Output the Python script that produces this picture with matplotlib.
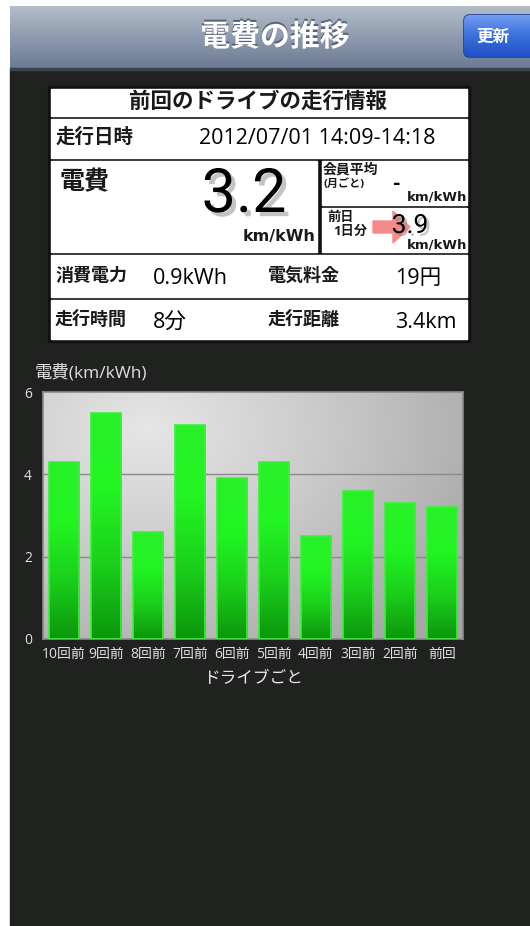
import matplotlib
matplotlib.use('Agg')
import matplotlib.pyplot as plt
import matplotlib.patheffects as pe
from matplotlib.patches import Rectangle, FancyBboxPatch, FancyArrow
from matplotlib.colors import LinearSegmentedColormap
import numpy as np

plt.rcParams['font.family'] = ['Open Sans', 'Noto Sans CJK JP', 'DejaVu Sans']

# chart data
drives = ['10回前', '9回前', '8回前', '7回前', '6回前', '5回前', '4回前', '3回前', '2回前', '前回']
efficiency = [4.3, 5.5, 2.6, 5.2, 3.9, 4.3, 2.5, 3.6, 3.3, 3.2]
y_ticks = [0, 2, 4, 6]

# info panel values
title = '電費の推移'
panel_title = '前回のドライブの走行情報'
drive_date = '2012/07/01 14:09-14:18'
last_eff = '3.2'
member_avg = '-'
prev_day = '3.9'
power_used = '0.9kWh'
cost = '19円'
drive_time = '8分'
distance = '3.4km'

W, H = 530, 926
fig = plt.figure(figsize=(W / 100, H / 100), dpi=100, facecolor='white')

bg = fig.add_axes([0, 0, 1, 1])
bg.set_xlim(0, W)
bg.set_ylim(H, 0)
bg.axis('off')

# dark screen
bg.add_patch(Rectangle((10, 70), W - 10, H - 70, color='#202220', zorder=0))

# header bar gradient
hgrad = np.linspace(0, 1, 64).reshape(-1, 1)
hcmap = LinearSegmentedColormap.from_list('hdr', ['#b3bcc8', '#8e9aae', '#6b7a93'])
bg.imshow(hgrad, extent=(10, W, 69, 6), cmap=hcmap, aspect='auto', zorder=1)
bg.add_patch(Rectangle((10, 68), W - 10, 2, color='#3a4250', zorder=2))
bg.text(275, 38, title, color='white', fontsize=21.5, fontweight='bold',
        ha='center', va='center', zorder=3,
        path_effects=[pe.withSimplePatchShadow(offset=(0, 1.5), shadow_rgbFace='#4a5568', alpha=0.8)])

# refresh button
btn = FancyBboxPatch((464, 15), 80, 42, boxstyle='round,pad=0,rounding_size=6',
                     facecolor='#2a60d0', edgecolor='#1b3f8f', linewidth=1.2, zorder=3)
bg.add_patch(btn)
bgrad = np.linspace(0, 1, 32).reshape(-1, 1)
bcmap = LinearSegmentedColormap.from_list('btn', ['#6f9cf0', '#3a6fdc', '#1f52c4'])
bim = bg.imshow(bgrad, extent=(464, 544, 57, 15), cmap=bcmap, aspect='auto', zorder=3.5)
bim.set_clip_path(btn)
bg.text(493, 37, '更新', color='white', fontsize=12, fontweight='bold',
        ha='center', va='center', zorder=4)

# info table
bg.add_patch(Rectangle((48, 86), 422, 256, color='#111111', zorder=1))
cells = [(51, 89, 467, 116), (51, 119, 467, 158), (51, 161, 317, 252),
         (322, 161, 467, 205), (322, 208, 467, 252), (51, 255, 467, 297),
         (51, 300, 467, 339)]
for x0, y0, x1, y1 in cells:
    bg.add_patch(Rectangle((x0, y0), x1 - x0, y1 - y0, color='white', zorder=2))

dark = '#1a1a1a'
narrow = ['Roboto', 'DejaVu Sans']
wide_bold = ['DejaVu Sans']
bg.text(258, 102, panel_title, color=dark, fontsize=15.5, fontweight='bold',
        ha='center', va='center', zorder=3)
bg.text(56, 138, '走行日時', color=dark, fontsize=14, fontweight='bold', va='center', zorder=3)
bg.text(199, 139, drive_date, color='black', fontsize=15.5, va='center', zorder=3)

bg.text(60, 183, '電費', color=dark, fontsize=18, fontweight='bold', va='center', zorder=3)
shadow = [pe.withSimplePatchShadow(offset=(3, -3), shadow_rgbFace='#888888', alpha=0.5)]
bg.text(244, 195, last_eff, color='black', fontsize=44, family=narrow, ha='center',
        va='center', zorder=3, path_effects=shadow)
bg.text(315, 236, 'km/kWh', color=dark, fontsize=11.5, fontweight='bold', family=wide_bold,
        ha='right', va='center', zorder=3)

bg.text(323, 170, '会員平均', color=dark, fontsize=10, fontweight='bold', va='center', zorder=3)
bg.text(323, 184, '(月ごと)', color=dark, fontsize=8, fontweight='bold', va='center', zorder=3)
bg.text(397, 184, member_avg, color='black', fontsize=13, fontweight='bold', family=wide_bold,
        ha='center', va='center', zorder=3)
bg.text(467, 197, 'km/kWh', color=dark, fontsize=9.5, fontweight='bold', family=wide_bold,
        ha='right', va='center', zorder=3)

bg.text(327, 218, '前日', color=dark, fontsize=9.5, fontweight='bold', va='center', zorder=3)
bg.text(333, 231, '1日分', color=dark, fontsize=9.5, fontweight='bold', va='center', zorder=3)
bg.add_patch(FancyArrow(373, 227, 37, 0, width=12, head_width=32, head_length=17,
                        length_includes_head=True, color='#f58a8a', zorder=3))
bg.text(410, 226, prev_day, color='black', fontsize=19, family=narrow, ha='center',
        va='center', zorder=4,
        path_effects=[pe.withSimplePatchShadow(offset=(2, -2), shadow_rgbFace='#888888', alpha=0.5)])
bg.text(467, 245, 'km/kWh', color=dark, fontsize=9.5, fontweight='bold', family=wide_bold,
        ha='right', va='center', zorder=4)

for yy, l1, v1, l2, v2 in [(276, '消費電力', power_used, '電気料金', cost),
                           (320, '走行時間', drive_time, '走行距離', distance)]:
    bg.text(55, yy, l1, color=dark, fontsize=13, fontweight='bold', va='center', zorder=3)
    bg.text(153, yy + 2, v1, color='black', fontsize=15.5, va='center', zorder=3)
    bg.text(268, yy, l2, color=dark, fontsize=13, fontweight='bold', va='center', zorder=3)
    bg.text(395, yy + 2, v2, color='black', fontsize=15.5, va='center', zorder=3)

# chart
ax = fig.add_axes([43 / W, 1 - 639 / H, 420 / W, 247 / H])
ax.set_xlim(-0.5, len(drives) - 0.5)
ax.set_ylim(0, 6)

# plot area gradient
gx, gy = np.meshgrid(np.linspace(0, 1, 200), np.linspace(1, 0, 120))
shade = np.sqrt((gx - 0.25) ** 2 + ((gy - 0.85) * 0.8) ** 2)
gcmap = LinearSegmentedColormap.from_list('pa', ['#e6e6e6', '#c8c8c8', '#a6a6a6'])
ax.imshow(shade, extent=(-0.5, len(drives) - 0.5, 0, 6), cmap=gcmap,
          aspect='auto', zorder=0, vmin=0, vmax=0.9)

for t in y_ticks[1:-1]:
    ax.axhline(t, color='#8a8a8a', linewidth=1, zorder=1)

bars = ax.bar(np.arange(len(drives)), efficiency, width=0.72,
              facecolor='none', edgecolor='#3cf03c', linewidth=1.2, zorder=3)
bar_cmap = LinearSegmentedColormap.from_list('bar', ['#28f028', '#22f522', '#1bd01b', '#0c980c'])
bar_grad = np.linspace(0, 1, 64).reshape(-1, 1)
for b in bars:
    x0, w, h = b.get_x(), b.get_width(), b.get_height()
    im = ax.imshow(bar_grad, extent=(x0, x0 + w, 0, h), cmap=bar_cmap,
                   aspect='auto', zorder=2)
    im.set_clip_path(b)
ax.set_xlim(-0.5, len(drives) - 0.5)
ax.set_ylim(0, 6)

ax.set_yticks(y_ticks)
ax.set_xticks(np.arange(len(drives)))
ax.set_xticklabels(drives)
ax.tick_params(axis='both', length=0, colors='#e0e0e0', labelsize=10)
ax.tick_params(axis='y', pad=8)
ax.tick_params(axis='x', pad=6)
for s in ax.spines.values():
    s.set_color('#8a8a8a')
    s.set_linewidth(1.2)
ax.set_xlabel('ドライブごと', color='#e8e8e8', fontsize=12, labelpad=6)

bg.text(35, 373, '電費(km/kWh)', color='#e0e0e0', fontsize=12.5, va='center', zorder=3)

fig.savefig('out.png', dpi=100, facecolor='white')
